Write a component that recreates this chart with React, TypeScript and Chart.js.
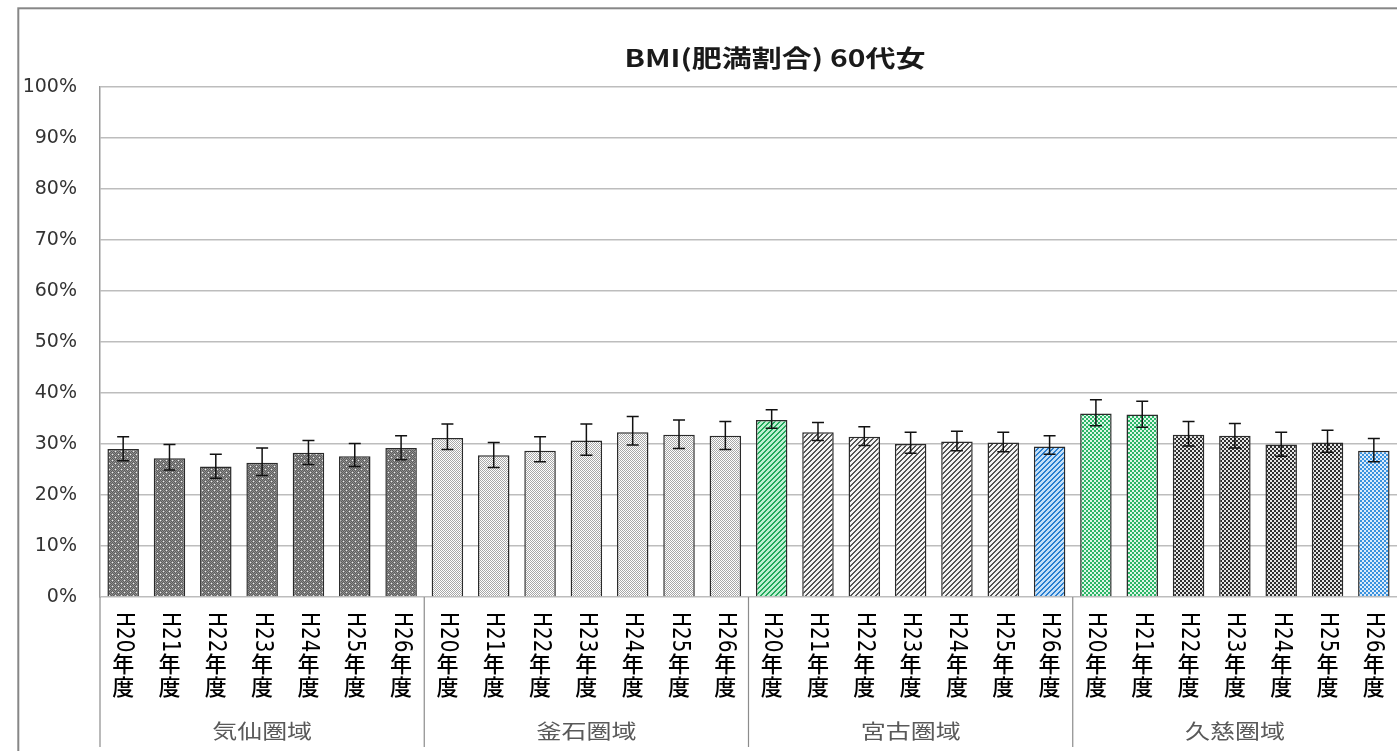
import React, { useEffect, useRef } from 'react';
import { Chart, registerables } from 'chart.js';

Chart.register(...registerables);

// ---- data ----
const chartTitle = 'BMI(肥満割合) 60代女';
const regions = ['気仙圏域', '釜石圏域', '宮古圏域', '久慈圏域'];
const years = ['H20年度', 'H21年度', 'H22年度', 'H23年度', 'H24年度', 'H25年度', 'H26年度'];
const yTickLabels = ['0%', '10%', '20%', '30%', '40%', '50%', '60%', '70%', '80%', '90%', '100%'];

const kesenRate = [29.0, 27.2, 25.6, 26.3, 28.3, 27.6, 29.2];
const kesenLower = [26.7, 24.9, 23.3, 23.8, 26.0, 25.6, 26.9];
const kesenUpper = [31.4, 29.9, 28.0, 29.2, 30.7, 30.1, 31.6];

const kamaishiRate = [31.2, 27.8, 28.7, 30.7, 32.3, 31.8, 31.6];
const kamaishiLower = [28.9, 25.4, 26.5, 27.8, 29.8, 29.1, 28.9];
const kamaishiUpper = [33.9, 30.3, 31.4, 33.9, 35.4, 34.7, 34.4];

const miyakoRate = [34.7, 32.3, 31.4, 30.0, 30.5, 30.3, 29.5];
const miyakoLower = [33.1, 30.7, 29.7, 28.2, 28.7, 28.5, 28.0];
const miyakoUpper = [36.7, 34.2, 33.4, 32.3, 32.5, 32.3, 31.6];

const kujiRate = [36.0, 35.8, 31.8, 31.6, 29.9, 30.3, 28.7];
const kujiLower = [33.6, 33.3, 29.6, 29.2, 27.6, 28.4, 26.5];
const kujiUpper = [38.7, 38.4, 34.4, 34.0, 32.3, 32.7, 31.1];

// ---- styles (kept separate from data) ----
const regionFill = ['dotsDark', 'dotsLight', 'stripeGray', 'checkDark'];
const highlightFill: Record<string, string> = {
  '2-0': 'stripeGreen',
  '2-6': 'stripeBlue',
  '3-0': 'checkGreen',
  '3-1': 'checkGreen',
  '3-6': 'checkBlue',
};

const STRETCH = 1.25;

function makePattern(
  target: CanvasRenderingContext2D,
  w: number,
  h: number,
  paint: (x: number, y: number) => string
): CanvasPattern | string {
  const c = document.createElement('canvas');
  c.width = w;
  c.height = h;
  const g = c.getContext('2d')!;
  for (let y = 0; y < h; y++) {
    for (let x = 0; x < w; x++) {
      g.fillStyle = paint(x, y);
      g.fillRect(x, y, 1, 1);
    }
  }
  return target.createPattern(c, 'repeat') || '#888';
}

function buildPatterns(ctx: CanvasRenderingContext2D): Record<string, CanvasPattern | string> {
  const stripe = (fg: string, bg: string) =>
    makePattern(ctx, 5, 5, (x, y) => ((x + y) % 5 < 2 ? fg : bg));
  const check = (fg: string, bg: string) =>
    makePattern(ctx, 4, 4, (x, y) => ((Math.floor(x / 2) + Math.floor(y / 2)) % 2 === 0 ? fg : bg));
  return {
    dotsDark: makePattern(ctx, 6, 6, (x, y) => {
      if ((x === 1 && y === 1) || (x === 4 && y === 4)) return '#f2f2f2';
      return (x + y) % 2 === 0 ? '#5e5e5e' : '#8e8e8e';
    }),
    dotsLight: makePattern(ctx, 2, 2, (x, y) => ((x + y) % 2 === 0 ? '#a8a8a8' : '#ffffff')),
    stripeGray: stripe('#555555', '#f4f4f4'),
    stripeGreen: stripe('#22a95c', '#bdf0d1'),
    stripeBlue: stripe('#2a7fd0', '#c4e0f8'),
    checkDark: check('#2e2e2e', '#e6e6e6'),
    checkGreen: check('#2bb567', '#dff7e8'),
    checkBlue: check('#3a92de', '#dcecfb'),
  };
}

const rateGroups = [kesenRate, kamaishiRate, miyakoRate, kujiRate];
const lowerGroups = [kesenLower, kamaishiLower, miyakoLower, kujiLower];
const upperGroups = [kesenUpper, kamaishiUpper, miyakoUpper, kujiUpper];

export default function App() {
  const canvasRef = useRef<HTMLCanvasElement | null>(null);

  useEffect(() => {
    const canvas = canvasRef.current;
    if (!canvas) return;
    const ctx = canvas.getContext('2d')!;
    const patterns = buildPatterns(ctx);

    const labels: string[] = [];
    const values: number[] = [];
    const lows: number[] = [];
    const highs: number[] = [];
    const fills: (CanvasPattern | string)[] = [];
    regions.forEach((r, gi) => {
      years.forEach((yr, yi) => {
        labels.push(yr);
        values.push(rateGroups[gi][yi]);
        lows.push(lowerGroups[gi][yi]);
        highs.push(upperGroups[gi][yi]);
        const kind = highlightFill[`${gi}-${yi}`] || regionFill[gi];
        fills.push(patterns[kind]);
      });
    });

    const decorPlugin = {
      id: 'decor',
      beforeDraw(chart: any) {
        const c = chart.ctx as CanvasRenderingContext2D;
        c.save();
        c.strokeStyle = '#878787';
        c.lineWidth = 2;
        c.strokeRect(18.3, 8.3, 3000, 3000);
        c.restore();
      },
      afterDatasetsDraw(chart: any) {
        const c = chart.ctx as CanvasRenderingContext2D;
        const yS = chart.scales.y;
        const meta = chart.getDatasetMeta(0);
        c.save();
        c.strokeStyle = '#111';
        c.lineWidth = 1.5;
        meta.data.forEach((bar: any, i: number) => {
          const x = bar.x;
          const top = yS.getPixelForValue(highs[i]);
          const bot = yS.getPixelForValue(lows[i]);
          c.beginPath();
          c.moveTo(x, top);
          c.lineTo(x, bot);
          c.moveTo(x - 6, top);
          c.lineTo(x + 6, top);
          c.moveTo(x - 6, bot);
          c.lineTo(x + 6, bot);
          c.stroke();
        });
        c.restore();
      },
      afterDraw(chart: any) {
        const c = chart.ctx as CanvasRenderingContext2D;
        const xS = chart.scales.x;
        const area = chart.chartArea;
        const bottomLine = 747;

        // title
        c.save();
        c.translate(775, 58);
        c.scale(STRETCH, 1);
        c.font = 'bold 24px "Noto Sans CJK JP"';
        c.fillStyle = '#1a1a1a';
        c.textAlign = 'center';
        c.textBaseline = 'middle';
        c.fillText(chartTitle, 0, 0);
        c.restore();

        // category labels
        labels.forEach((lab, i) => {
          const x = xS.getPixelForValue(i);
          const latin = lab.slice(0, 3);
          const cjk = lab.slice(3);
          c.save();
          c.translate(x, 612);
          c.scale(STRETCH, 1);
          c.rotate(Math.PI / 2);
          c.font = '20px "DejaVu Sans"';
          c.fillStyle = '#000';
          c.textAlign = 'left';
          c.textBaseline = 'middle';
          c.fillText(latin, 0, 0);
          c.restore();
          c.save();
          c.font = '500 22px "Noto Sans CJK JP"';
          c.fillStyle = '#000';
          c.textAlign = 'center';
          c.textBaseline = 'middle';
          for (let k = 0; k < cjk.length; k++) {
            c.fillText(cjk[k], x, 664 + k * 22.5);
          }
          c.restore();
        });

        // group dividers & labels
        c.save();
        c.strokeStyle = '#8c8c8c';
        c.lineWidth = 1.2;
        const n = years.length;
        const half = (xS.getPixelForValue(1) - xS.getPixelForValue(0)) / 2;
        c.beginPath();
        c.moveTo(area.left, area.bottom);
        c.lineTo(area.left, bottomLine);
        for (let g = 1; g < regions.length; g++) {
          const xb = xS.getPixelForValue(g * n) - half;
          c.moveTo(xb, area.bottom);
          c.lineTo(xb, bottomLine);
        }
        c.stroke();
        c.restore();

        regions.forEach((r, g) => {
          const x0 = xS.getPixelForValue(g * n) - half;
          const x1 = xS.getPixelForValue(g * n + n - 1) + half;
          c.save();
          c.translate((x0 + x1) / 2, 731);
          c.scale(STRETCH, 1);
          c.font = '20px "Noto Sans CJK JP"';
          c.fillStyle = '#595959';
          c.textAlign = 'center';
          c.textBaseline = 'middle';
          c.fillText(r, 0, 0);
          c.restore();
        });
      },
    };

    const chart = new Chart(canvas, {
      type: 'bar',
      data: {
        labels,
        datasets: [
          {
            data: values,
            backgroundColor: fills as any,
            borderColor: '#2a2a2a',
            borderWidth: 1.5,
            barPercentage: 0.68,
            categoryPercentage: 1,
          },
        ],
      },
      options: {
        responsive: false,
        animation: false,
        events: [],
        layout: { padding: { left: 20, top: 87, right: 0, bottom: 0 } },
        plugins: {
          legend: { display: false },
          title: { display: false },
          tooltip: { enabled: false },
        },
        scales: {
          x: {
            grid: { display: false },
            border: { display: false },
            ticks: { display: false },
            afterFit: (scale: any) => {
              scale.height = 154;
            },
          },
          y: {
            min: 0,
            max: 100,
            ticks: {
              stepSize: 10,
              padding: 23,
              color: '#333',
              font: { family: '"DejaVu Sans"', size: 19 },
              callback: (v: any) => yTickLabels[Math.round(Number(v) / 10)],
            },
            grid: { color: '#bdbdbd', lineWidth: 1.5, drawTicks: false },
            border: { display: true, color: '#9a9a9a', width: 1.5 },
            afterFit: (scale: any) => {
              scale.width = 80;
            },
          },
        },
      },
      plugins: [decorPlugin],
    });

    return () => chart.destroy();
  }, []);

  return (
    <div style={{ position: 'fixed', left: 0, top: 0, width: 1397, height: 751, background: '#fff' }}>
      <canvas ref={canvasRef} width={1397} height={751} style={{ display: 'block' }} />
    </div>
  );
}
